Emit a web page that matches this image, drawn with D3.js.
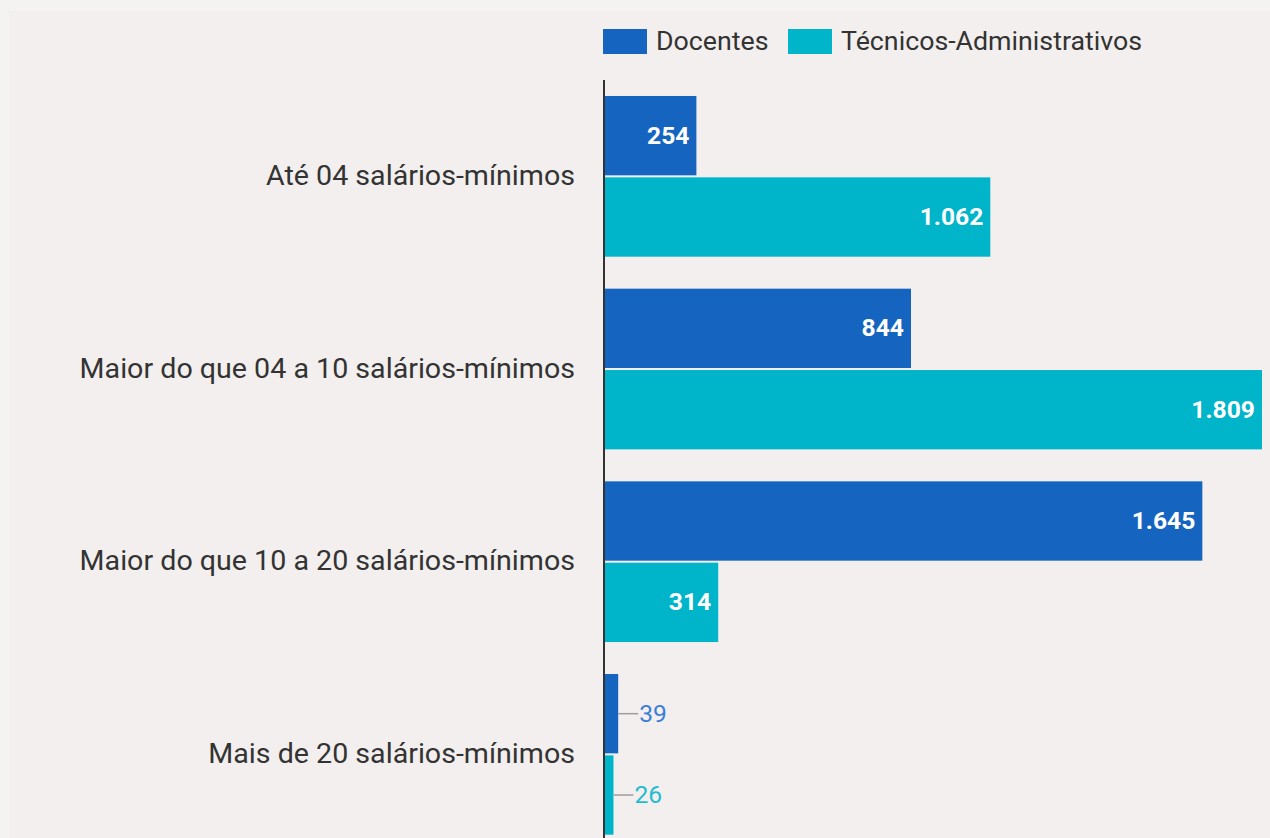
<!DOCTYPE html>
<html><head><meta charset="utf-8">
<script src="https://cdn.jsdelivr.net/npm/d3@7"></script>
<style>
html,body{margin:0;padding:0;background:#f4f3f2;overflow:hidden;}
svg{display:block;font-family:Roboto, "Noto Sans", sans-serif;}
</style></head><body>
<svg id="c" width="1270" height="838"></svg>
<script>
const categories = ["Até 04 salários-mínimos","Maior do que 04 a 10 salários-mínimos","Maior do que 10 a 20 salários-mínimos","Mais de 20 salários-mínimos"];
const seriesNames = ["Docentes","Técnicos-Administrativos"];
const docentes = [254, 844, 1645, 39];
const tecnicos = [1062, 1809, 314, 26];
const colors = ["#1565c0","#00b4c9"];
const outsideColors = ["#3b7fd8","#1fbdd0"];

const fmt = d3.formatLocale({decimal:",", thousands:".", grouping:[3], currency:["R$",""]}).format(",d");
const svg = d3.select("#c");
svg.append("rect").attr("x",9).attr("y",11).attr("width",1261).attr("height",827).attr("fill","#f2efee");

const x = d3.scaleLinear().domain([0, 1809]).range([604, 1262]);
const y = d3.scaleBand().domain(categories).range([80, 850.7]).paddingInner(0.166).paddingOuter(0.083);
const ys = d3.scaleBand().domain(seriesNames).range([0, y.bandwidth()]).paddingInner(0.025);

const data = categories.map((c,i)=>({cat:c, vals:[docentes[i], tecnicos[i]]}));
const g = svg.append("g");
data.forEach(d=>{
  d.vals.forEach((v,si)=>{
    const y0 = y(d.cat) + ys(seriesNames[si]);
    const h = ys.bandwidth();
    g.append("rect").attr("x", x(0)).attr("y", y0).attr("width", x(v)-x(0)).attr("height", h).attr("fill", colors[si]);
    const w = x(v)-x(0);
    if (w > 60) {
      g.append("text").attr("class","stretch").attr("x", x(v)-7).attr("y", y0+h/2).attr("dy","0.35em")
        .attr("text-anchor","end").attr("fill","#fff").attr("font-weight","bold").attr("font-size",23).text(fmt(v));
    } else {
      g.append("line").attr("x1", x(v)).attr("x2", x(v)+20).attr("y1", y0+h/2).attr("y2", y0+h/2)
        .attr("stroke","#9e9e9e").attr("stroke-width",1.5);
      g.append("text").attr("class","stretch").attr("x", x(v)+21).attr("y", y0+h/2).attr("dy","0.35em")
        .attr("fill", outsideColors[si]).attr("font-size",23).text(fmt(v));
    }
  });
});

// category labels
const yAxis = d3.axisLeft(y).tickSize(0).tickPadding(29);
const ax = svg.append("g").attr("transform",`translate(${x(0)},0)`).call(yAxis);
ax.select(".domain").remove();
ax.selectAll("text").attr("font-size",27).attr("fill","#333").attr("font-family","Roboto, sans-serif")
  .each(function(){ const L=this.getComputedTextLength(); d3.select(this).attr("textLength",L*1.06).attr("lengthAdjust","spacingAndGlyphs"); });

svg.append("line").attr("x1",x(0)).attr("x2",x(0)).attr("y1",80).attr("y2",838).attr("stroke","#333").attr("stroke-width",2);

// legend
const legendX = [603, 788];
seriesNames.forEach((s,i)=>{
  svg.append("rect").attr("x",legendX[i]).attr("y",29).attr("width",44).attr("height",25).attr("fill",colors[i]);
  svg.append("text").attr("class","stretch").attr("x",legendX[i]+53).attr("y",41.5).attr("dy","0.35em").attr("font-size",25).attr("fill","#333").text(s);
});

svg.selectAll("text.stretch").each(function(){
  const L = this.getComputedTextLength();
  d3.select(this).attr("textLength", L*1.07).attr("lengthAdjust","spacingAndGlyphs");
});
</script>
</body></html>
